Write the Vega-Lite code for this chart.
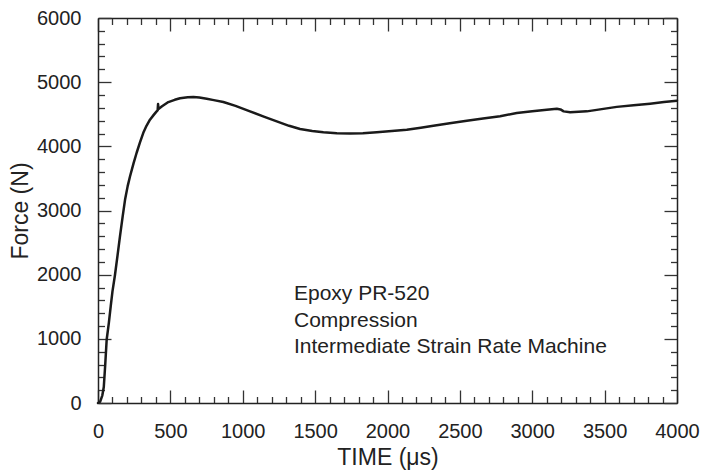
{
  "$schema": "https://vega.github.io/schema/vega-lite/v6.json",
  "width": 579,
  "height": 385,
  "autosize": {"type": "none"},
  "padding": {"left": 98, "top": 18, "right": 25, "bottom": 68},
  "background": "white",
  "config": {
    "view": {"stroke": null},
    "font": "Liberation Sans",
    "axis": {
      "grid": false,
      "domain": true,
      "domainColor": "#222",
      "domainWidth": 1.5,
      "tickColor": "#333",
      "tickWidth": 1.3,
      "labelFont": "Liberation Sans",
      "labelFontSize": 20,
      "labelColor": "#222",
      "labelFlush": false,
      "labelOverlap": false,
      "titleFont": "Liberation Sans",
      "titleFontSize": 23,
      "titleFontWeight": "normal",
      "titleColor": "#222"
    }
  },
  "data": {
    "values": [
      {"t": 0, "F": 0}, {"t": 15, "F": 20}, {"t": 30, "F": 120}, {"t": 40, "F": 250},
      {"t": 50, "F": 600}, {"t": 60, "F": 990}, {"t": 75, "F": 1250}, {"t": 88, "F": 1510},
      {"t": 100, "F": 1740}, {"t": 117, "F": 1990}, {"t": 135, "F": 2300}, {"t": 152, "F": 2600},
      {"t": 170, "F": 2900}, {"t": 187, "F": 3170}, {"t": 205, "F": 3380}, {"t": 221, "F": 3530},
      {"t": 245, "F": 3730}, {"t": 267, "F": 3900}, {"t": 290, "F": 4060}, {"t": 313, "F": 4210},
      {"t": 335, "F": 4320}, {"t": 359, "F": 4415}, {"t": 385, "F": 4490}, {"t": 405, "F": 4545},
      {"t": 412, "F": 4560}, {"t": 415, "F": 4660}, {"t": 418, "F": 4580}, {"t": 440, "F": 4620},
      {"t": 486, "F": 4690}, {"t": 530, "F": 4725}, {"t": 567, "F": 4750}, {"t": 620, "F": 4765},
      {"t": 659, "F": 4770}, {"t": 700, "F": 4760}, {"t": 751, "F": 4740}, {"t": 800, "F": 4720},
      {"t": 866, "F": 4690}, {"t": 950, "F": 4630}, {"t": 1050, "F": 4545}, {"t": 1150, "F": 4460},
      {"t": 1235, "F": 4390}, {"t": 1320, "F": 4320}, {"t": 1396, "F": 4270}, {"t": 1480, "F": 4240},
      {"t": 1557, "F": 4220}, {"t": 1650, "F": 4205}, {"t": 1741, "F": 4200}, {"t": 1830, "F": 4205},
      {"t": 1926, "F": 4220}, {"t": 2030, "F": 4240}, {"t": 2133, "F": 4260}, {"t": 2230, "F": 4290},
      {"t": 2317, "F": 4320}, {"t": 2430, "F": 4360}, {"t": 2548, "F": 4400}, {"t": 2660, "F": 4435},
      {"t": 2778, "F": 4470}, {"t": 2893, "F": 4520}, {"t": 3000, "F": 4545}, {"t": 3100, "F": 4570},
      {"t": 3170, "F": 4585}, {"t": 3195, "F": 4575}, {"t": 3217, "F": 4545}, {"t": 3262, "F": 4530},
      {"t": 3320, "F": 4538}, {"t": 3377, "F": 4545}, {"t": 3480, "F": 4580}, {"t": 3584, "F": 4615},
      {"t": 3700, "F": 4640}, {"t": 3814, "F": 4665}, {"t": 3910, "F": 4690}, {"t": 4000, "F": 4710}
    ]
  },
  "layer": [
    {
      "mark": {"type": "line", "color": "#1a1a1a", "strokeWidth": 2.5, "strokeJoin": "round", "strokeCap": "round"},
      "encoding": {
        "x": {
          "field": "t", "type": "quantitative",
          "scale": {"domain": [0, 4000], "nice": false, "zero": false},
          "axis": {
            "orient": "bottom",
            "title": "TIME (μs)",
            "format": "d",
            "values": [0,100,200,300,400,500,600,700,800,900,1000,1100,1200,1300,1400,1500,1600,1700,1800,1900,2000,2100,2200,2300,2400,2500,2600,2700,2800,2900,3000,3100,3200,3300,3400,3500,3600,3700,3800,3900,4000],
            "labelExpr": "datum.value % 500 === 0 ? datum.label : ''",
            "tickSize": {"condition": {"test": "datum.value % 500 === 0", "value": -13}, "value": -6.5},
            "labelPadding": 31,
            "titlePadding": -1
          }
        },
        "y": {
          "field": "F", "type": "quantitative",
          "scale": {"domain": [0, 6000], "nice": false, "zero": false},
          "axis": {
            "orient": "left",
            "title": "Force (N)",
            "format": "d",
            "values": [0,200,400,600,800,1000,1200,1400,1600,1800,2000,2200,2400,2600,2800,3000,3200,3400,3600,3800,4000,4200,4400,4600,4800,5000,5200,5400,5600,5800,6000],
            "labelExpr": "datum.value % 1000 === 0 ? datum.label : ''",
            "tickSize": {"condition": {"test": "datum.value % 1000 === 0", "value": -13}, "value": -6.5},
            "labelPadding": 30,
            "titlePadding": 4
          }
        }
      }
    },
    {
      "data": {"values": [{}]},
      "mark": {"type": "text", "align": "left", "baseline": "alphabetic", "fontSize": 21, "lineHeight": 26.7, "color": "#222", "font": "Liberation Sans"},
      "encoding": {
        "x": {
          "datum": 1354, "type": "quantitative",
          "scale": {"domain": [0, 4000], "nice": false, "zero": false},
          "axis": {
            "orient": "top",
            "title": null,
            "labels": false,
            "values": [0,100,200,300,400,500,600,700,800,900,1000,1100,1200,1300,1400,1500,1600,1700,1800,1900,2000,2100,2200,2300,2400,2500,2600,2700,2800,2900,3000,3100,3200,3300,3400,3500,3600,3700,3800,3900,4000],
            "tickSize": {"condition": {"test": "datum.value % 500 === 0", "value": -13}, "value": -6.5}
          }
        },
        "y": {
          "datum": 1608, "type": "quantitative",
          "scale": {"domain": [0, 6000], "nice": false, "zero": false},
          "axis": {
            "orient": "right",
            "title": null,
            "labels": false,
            "values": [0,200,400,600,800,1000,1200,1400,1600,1800,2000,2200,2400,2600,2800,3000,3200,3400,3600,3800,4000,4200,4400,4600,4800,5000,5200,5400,5600,5800,6000],
            "tickSize": {"condition": {"test": "datum.value % 1000 === 0", "value": -13}, "value": -6.5}
          }
        },
        "text": {"value": ["Epoxy PR-520", "Compression", "Intermediate Strain Rate Machine"]}
      }
    }
  ],
  "resolve": {"axis": {"x": "independent", "y": "independent"}}
}
